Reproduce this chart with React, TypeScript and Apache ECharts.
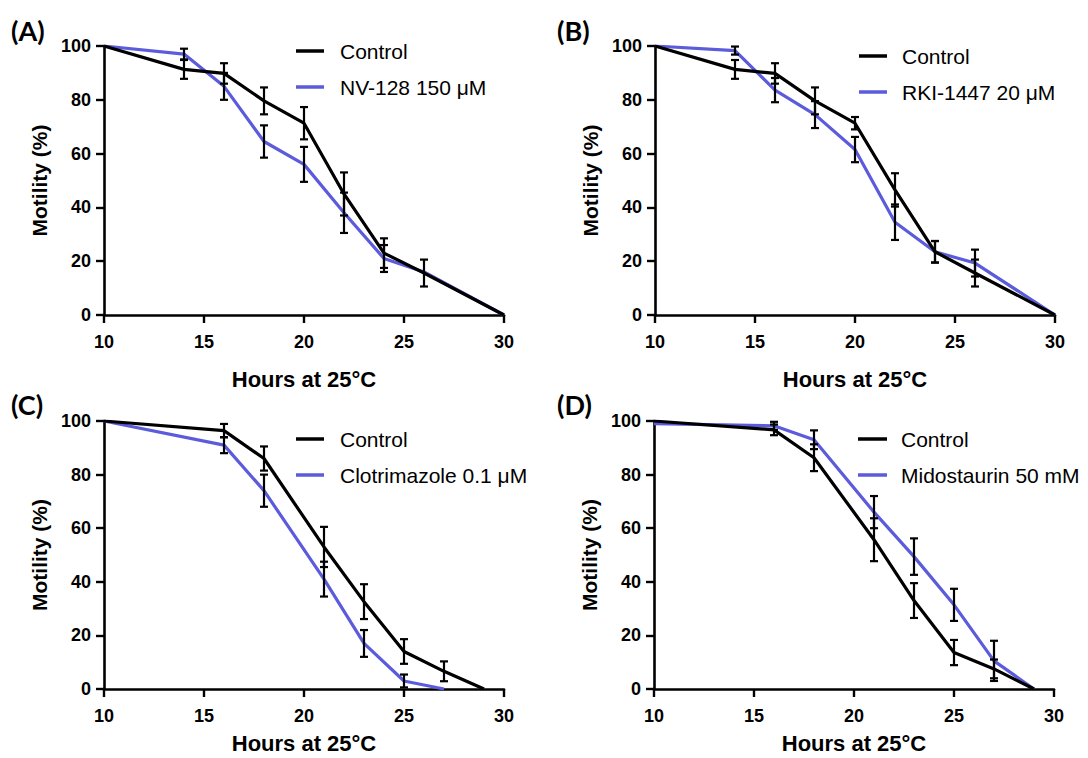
import React, { useEffect, useRef } from "react";
import * as echarts from "echarts";

// ---------- data ----------
const panelLabels = ["(A)", "(B)", "(C)", "(D)"];
const treatmentNames = ["NV-128 150 μM", "RKI-1447 20 μM", "Clotrimazole 0.1 μM", "Midostaurin 50 mM"];
const xTicks = [10, 15, 20, 25, 30];
const yTicks = [0, 20, 40, 60, 80, 100];

// Panel A
const hoursA = [10, 14, 16, 18, 20, 22, 24, 26, 30];
const controlA = [100, 91.3, 89.8, 79.6, 71.3, 45, 23, 15.6, 0];
const controlErrA = [0, 3.5, 3.8, 5, 6, 8, 5.5, 5, 0];
const treatA = [100, 97, 85, 64.5, 56, 38, 21, 16, 0];
const treatErrA = [0, 2, 5, 6, 6.5, 7.5, 5, 0, 0];

// Panel B
const hoursB = [10, 14, 16, 18, 20, 22, 24, 26, 30];
const controlB = [100, 91.3, 89.8, 79.6, 71.3, 46.5, 23.5, 15.6, 0];
const controlErrB = [0, 3.5, 3.8, 5, 2.3, 6.2, 4, 5, 0];
const treatB = [100, 98.3, 83.6, 74.5, 61.5, 34.5, 23.5, 19.3, 0];
const treatErrB = [0, 1.5, 4.5, 5, 4.7, 6.6, 4, 5, 0];

// Panel C
const hoursCctl = [10, 16, 18, 21, 23, 25, 27, 29];
const controlC = [100, 96.4, 86, 53, 32.6, 14, 6.6, 0];
const controlErrC = [0, 2.5, 4.5, 7.5, 6.5, 4.6, 3.7, 0];
const hoursCtrt = [10, 16, 18, 21, 23, 25, 27];
const treatC = [100, 91, 74, 41, 17, 3, 0];
const treatErrC = [0, 3, 6, 6.5, 5, 2.4, 0];

// Panel D
const hoursD = [10, 16, 18, 21, 23, 25, 27, 29];
const controlD = [100, 96.7, 86.3, 55.7, 33, 13.6, 7.5, 0];
const controlErrD = [0, 2, 5, 8, 6.5, 4.7, 3.5, 0];
const treatD = [99, 98.2, 93, 66, 49.4, 31.4, 10.5, 0];
const treatErrD = [0, 1.5, 3.5, 6, 6.8, 6, 7.5, 0];

const panels = [
  { ch: hoursA, c: controlA, ce: controlErrA, th: hoursA, t: treatA, te: treatErrA },
  { ch: hoursB, c: controlB, ce: controlErrB, th: hoursB, t: treatB, te: treatErrB },
  { ch: hoursCctl, c: controlC, ce: controlErrC, th: hoursCtrt, t: treatC, te: treatErrC },
  { ch: hoursD, c: controlD, ce: controlErrD, th: hoursD, t: treatD, te: treatErrD },
];

// ---------- layout / style ----------
const BLUE = "#5b5bdc";
const FONT = "Liberation Sans, Arial, sans-serif";
const TITLE_FONT = "Liberation Sans, Arial, sans-serif";
const grids = [
  { left: 104, top: 46, width: 400, height: 269, outerBoundsMode: "none" },
  { left: 655, top: 46, width: 400, height: 269, outerBoundsMode: "none" },
  { left: 104, top: 421, width: 400, height: 268, outerBoundsMode: "none" },
  { left: 654, top: 421, width: 400, height: 268, outerBoundsMode: "none" },
];
const xNameGaps = [53, 53, 43, 43];
const labelPos = [
  [11, 30],
  [557, 30],
  [11, 404],
  [557, 404],
];
const legendPos = [
  { x1: 296, x2: 324, tx: 340, y1: 51, y2: 87 },
  { x1: 859, x2: 887, tx: 902, y1: 56, y2: 92 },
  { x1: 296, x2: 324, tx: 340, y1: 439, y2: 475 },
  { x1: 858, x2: 887, tx: 901, y1: 439, y2: 475 },
];

function errData(h: number[], v: number[], e: number[]) {
  const out: number[][] = [];
  h.forEach((x, i) => {
    if (e[i] > 0) out.push([x, v[i] - e[i], v[i] + e[i]]);
  });
  return out;
}

function renderErr(params: any, api: any) {
  const x = api.value(0);
  const lo = api.value(1);
  const hi = api.value(2);
  const p1 = api.coord([x, hi]);
  const p2 = api.coord([x, lo]);
  const w = 4;
  const style = { stroke: "#000", lineWidth: 2.2 };
  return {
    type: "group",
    children: [
      { type: "line", shape: { x1: p1[0], y1: p1[1], x2: p2[0], y2: p2[1] }, style },
      { type: "line", shape: { x1: p1[0] - w, y1: p1[1], x2: p1[0] + w, y2: p1[1] }, style },
      { type: "line", shape: { x1: p2[0] - w, y1: p2[1], x2: p2[0] + w, y2: p2[1] }, style },
    ],
  };
}

export default function App() {
  const ref = useRef<HTMLDivElement>(null);
  useEffect(() => {
    if (!ref.current) return;
    const chart = echarts.init(ref.current, null, { renderer: "svg" });
    const axisLine = { show: true, lineStyle: { color: "#000", width: 2.6 } };
    const axisTick = { show: true, inside: false, length: 8, lineStyle: { color: "#000", width: 2.4 } };
    const labelStyle = { color: "#000", fontWeight: "bold" as const, fontSize: 18, fontFamily: FONT };

    const xAxis = grids.map((_, i) => ({
      type: "value",
      gridIndex: i,
      min: xTicks[0],
      max: xTicks[xTicks.length - 1],
      interval: 5,
      axisLine,
      axisTick,
      splitLine: { show: false },
      axisLabel: { ...labelStyle, margin: 18 },
      name: "Hours at 25°C",
      nameLocation: "middle",
      nameGap: xNameGaps[i],
      nameTextStyle: { color: "#000", fontWeight: "bold", fontSize: 22, fontFamily: TITLE_FONT },
    }));
    const yAxis = grids.map((_, i) => ({
      type: "value",
      gridIndex: i,
      min: yTicks[0],
      max: yTicks[yTicks.length - 1],
      interval: 20,
      axisLine,
      axisTick,
      splitLine: { show: false },
      axisLabel: { ...labelStyle, margin: 13 },
      name: "Motility (%)",
      nameLocation: "middle",
      nameRotate: 90,
      nameGap: 54,
      nameTextStyle: { color: "#000", fontWeight: "bold", fontSize: 21, fontFamily: TITLE_FONT },
    }));

    const series: any[] = [];
    panels.forEach((p, i) => {
      series.push({
        type: "line",
        name: treatmentNames[i],
        xAxisIndex: i,
        yAxisIndex: i,
        data: p.th.map((x, k) => [x, p.t[k]]),
        symbol: "none",
        lineStyle: { color: BLUE, width: 3.2 },
        itemStyle: { color: BLUE },
        z: 2,
      });
      series.push({
        type: "line",
        name: "Control",
        xAxisIndex: i,
        yAxisIndex: i,
        data: p.ch.map((x, k) => [x, p.c[k]]),
        symbol: "none",
        lineStyle: { color: "#000", width: 3.2 },
        itemStyle: { color: "#000" },
        z: 3,
      });
      series.push({
        type: "custom",
        xAxisIndex: i,
        yAxisIndex: i,
        data: errData(p.th, p.t, p.te),
        renderItem: renderErr,
        clip: false,
        z: 4,
      });
      series.push({
        type: "custom",
        xAxisIndex: i,
        yAxisIndex: i,
        data: errData(p.ch, p.c, p.ce),
        renderItem: renderErr,
        clip: false,
        z: 4,
      });
    });

    const graphic: any[] = [];
    panelLabels.forEach((lab, i) => {
      graphic.push({
        type: "text",
        x: labelPos[i][0],
        y: labelPos[i][1],
        style: { text: lab, fill: "#000", font: "bold 27px Lato, 'Open Sans', sans-serif", verticalAlign: "middle" },
      });
      const lp = legendPos[i];
      graphic.push({ type: "line", shape: { x1: lp.x1, y1: lp.y1, x2: lp.x2, y2: lp.y1 }, style: { stroke: "#000", lineWidth: 3.5 } });
      graphic.push({ type: "line", shape: { x1: lp.x1, y1: lp.y2, x2: lp.x2, y2: lp.y2 }, style: { stroke: BLUE, lineWidth: 3.5 } });
      graphic.push({
        type: "text",
        x: lp.tx,
        y: lp.y1,
        style: { text: "Control", fill: "#000", font: `21px ${FONT}`, verticalAlign: "middle" },
      });
      graphic.push({
        type: "text",
        x: lp.tx,
        y: lp.y2,
        style: { text: treatmentNames[i], fill: "#000", font: `21px ${FONT}`, verticalAlign: "middle" },
      });
    });

    chart.setOption({
      animation: false,
      backgroundColor: "#fff",
      grid: grids,
      xAxis,
      yAxis,
      series,
      graphic,
    });
    return () => chart.dispose();
  }, []);
  return <div ref={ref} style={{ position: "fixed", left: 0, top: 0, width: 1088, height: 758 }} />;
}
